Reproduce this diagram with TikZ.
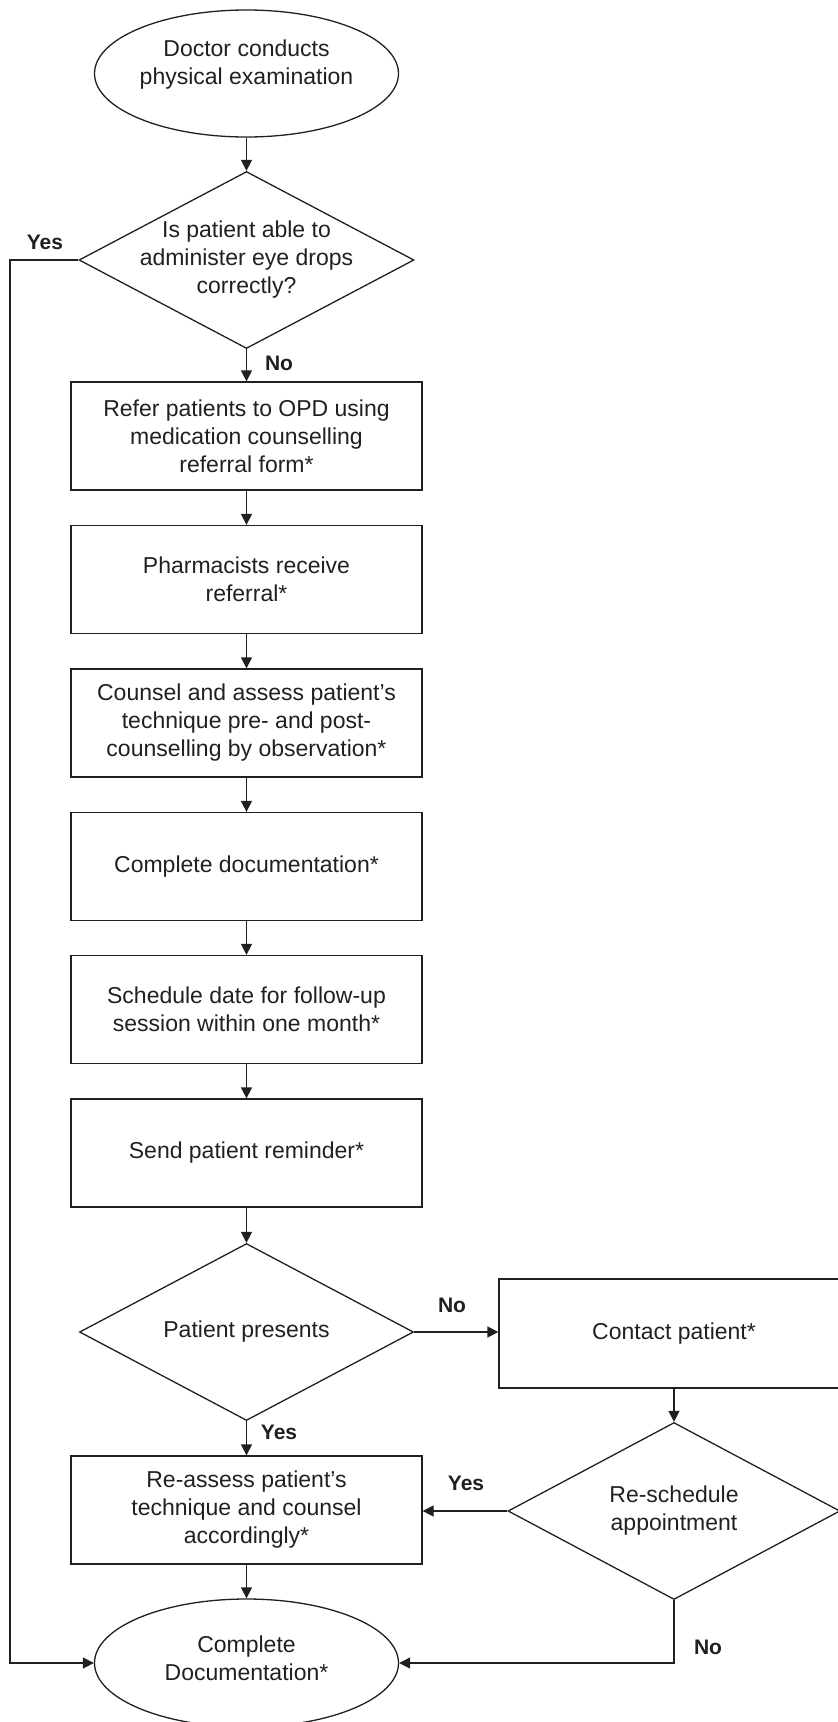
\documentclass[tikz,border=0pt]{standalone}
\usepackage{fontspec}
\setmainfont{Liberation Sans}
\usetikzlibrary{shapes.geometric,arrows.meta}
\definecolor{ink}{RGB}{35,31,32}
\begin{document}
\begin{tikzpicture}[x=1pt,y=-1pt,
  every node/.style={font=\fontsize{23}{28}\selectfont, text=ink},
  flow/.style={draw=ink, line width=1.3pt, inner sep=0pt, align=center},
  stepbox/.style={flow, rectangle, minimum width=351pt, minimum height=108pt},
  terminal/.style={flow, ellipse, minimum width=304pt, minimum height=127pt},
  decision/.style={flow, diamond, minimum width=335pt, minimum height=177pt},
  arrow/.style={draw=ink, line width=1.3pt, -{Triangle[length=11pt,width=11pt]}},
  answer/.style={font=\fontsize{21}{25}\selectfont\bfseries}
]
\clip (0,0) rectangle (838,1722);

% terminals
\node[terminal, label={[align=center, yshift=9pt]center:Doctor conducts\\physical examination}] (start) at (246.5,73.5) {};
\node[terminal, minimum height=128pt, label={[align=center, yshift=5pt]center:Complete\\Documentation*}] (finish) at (246.5,1663) {};

% decisions
\node[decision, label={[align=center]center:Is patient able to\\administer eye drops\\correctly?}] (able) at (246.5,260) {};
\node[decision, minimum width=334pt, label={[align=center]center:Patient presents}] (presents) at (246.5,1332) {};
\node[decision, minimum width=332pt, label={[align=center]center:Re-schedule\\appointment}] (resched) at (674,1511) {};

% process steps
\node[stepbox] (refer) at (246.5,436) {Refer patients to OPD using\\medication counselling\\referral form*};
\node[stepbox] (receive) at (246.5,579.5) {Pharmacists receive\\referral*};
\node[stepbox] (counsel) at (246.5,723) {Counsel and assess patient’s\\technique pre- and post-\\counselling by observation*};
\node[stepbox] (document) at (246.5,866.5) {Complete documentation*};
\node[stepbox] (schedule) at (246.5,1009.5) {Schedule date for follow-up\\session within one month*};
\node[stepbox] (remind) at (246.5,1153) {Send patient reminder*};
\node[stepbox, minimum width=350pt, minimum height=109pt] (contact) at (674,1333.5) {Contact patient*};
\node[stepbox] (reassess) at (246.5,1510) {Re-assess patient’s\\technique and counsel\\accordingly*};

% bend points
\coordinate (yesleft) at (10,260);
\coordinate (nodown) at (674,1663);

% connectors
\draw[arrow] (start) -- (able);
\draw[arrow] (able) -- (refer);
\draw[arrow] (able.west) -- (yesleft) |- (finish.west);
\draw[arrow] (refer) -- (receive);
\draw[arrow] (receive) -- (counsel);
\draw[arrow] (counsel) -- (document);
\draw[arrow] (document) -- (schedule);
\draw[arrow] (schedule) -- (remind);
\draw[arrow] (remind.south) -- (presents.north);
\draw[arrow] (presents.south) -- (reassess.north);
\draw[arrow] (presents.east) -- (presents.east -| contact.west);
\draw[arrow] (contact.south) -- (resched.north);
\draw[arrow] (resched.west) -- (resched.west -| reassess.east);
\draw[arrow] (resched.south) -- (nodown) -- (finish.east);
\draw[arrow] (reassess.south) -- (finish.north);

% answer labels
\node[answer] (lyes1) at (45,242) {Yes};
\node[answer] (lno1) at (279,363) {No};
\node[answer] (lno2) at (452,1305) {No};
\node[answer] (lyes2) at (279,1432) {Yes};
\node[answer] (lyes3) at (466,1483) {Yes};
\node[answer] (lno3) at (708,1647) {No};
\end{tikzpicture}
\end{document}
